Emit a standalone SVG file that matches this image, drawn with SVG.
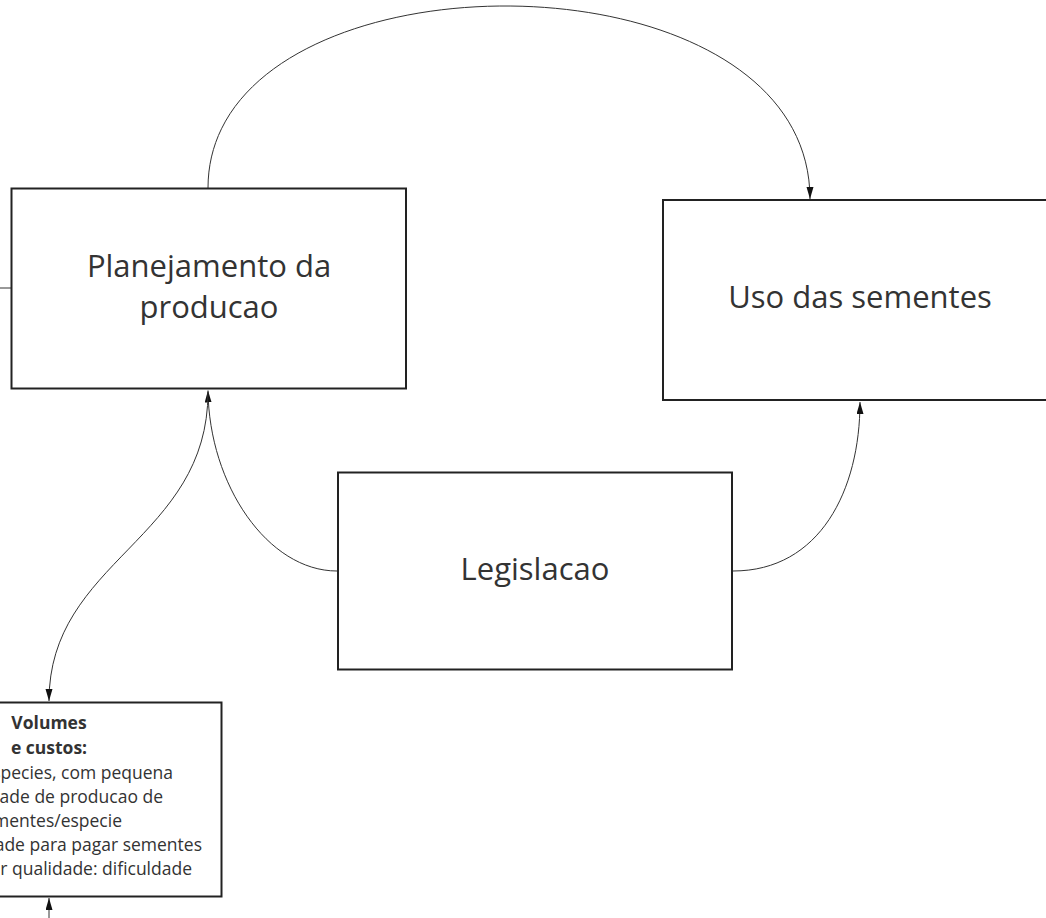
<svg xmlns="http://www.w3.org/2000/svg" width="1046" height="918" viewBox="0 0 1046 918">
<style>
.box{fill:#fff;stroke:#222;stroke-width:2}
.lbl{font-family:"Open Sans","Noto Sans","Liberation Sans",sans-serif;font-size:31px;fill:#333;text-anchor:middle}
.sm{font-family:"Open Sans","Noto Sans","Liberation Sans",sans-serif;font-size:17.5px;fill:#333}
.b{font-weight:bold;text-anchor:middle}
.e{text-anchor:end}
.con{fill:none;stroke:#333;stroke-width:1}
</style>
<defs>
<marker id="arr" markerUnits="userSpaceOnUse" markerWidth="12" markerHeight="8" refX="12" refY="3.5" orient="auto">
<path d="M0,0 L12,3.5 L0,7 z" fill="#111"/>
</marker>
</defs>
<rect width="1046" height="918" fill="#fff"/>
<g id="connectors">
<path class="con" d="M208,188 C208,-55 810,-58 810,199" marker-end="url(#arr)"/>
<path class="con" d="M337,571 C268,571 209,485 208,390.5" marker-end="url(#arr)"/>
<path class="con" d="M733,571 C820,571 860,490 860,402" marker-end="url(#arr)"/>
<path class="con" d="M208,392 C208,540 49,560 49,701" marker-end="url(#arr)"/>
<path class="con" d="M-10,288 L11,288"/>
<path class="con" d="M49,930 L49,898" marker-end="url(#arr)"/>
</g>
<g id="planejamento">
<rect class="box" x="11.5" y="188.5" width="394.5" height="200"/>
<text class="lbl" x="209" y="277">Planejamento da</text>
<text class="lbl" x="209" y="318">producao</text>
</g>
<g id="uso">
<rect class="box" x="663" y="200" width="394" height="200"/>
<text class="lbl" x="860" y="308">Uso das sementes</text>
</g>
<g id="legislacao">
<rect class="box" x="338" y="472.5" width="394" height="197"/>
<text class="lbl" x="535" y="580">Legislacao</text>
</g>
<g id="volumes">
<rect class="box" x="-124" y="702.5" width="345.5" height="194"/>
<text class="sm b" x="49" y="729">Volumes</text>
<text class="sm b" x="49" y="754">e custos:</text>
<text class="sm e" x="173" y="779">species, com pequena</text>
<text class="sm e" x="163" y="803">ade de producao de</text>
<text class="sm e" x="122" y="827">mentes/especie</text>
<text class="sm e" x="202" y="851">ade para pagar sementes</text>
<text class="sm e" x="192" y="875">r qualidade: dificuldade</text>
</g>
</svg>
